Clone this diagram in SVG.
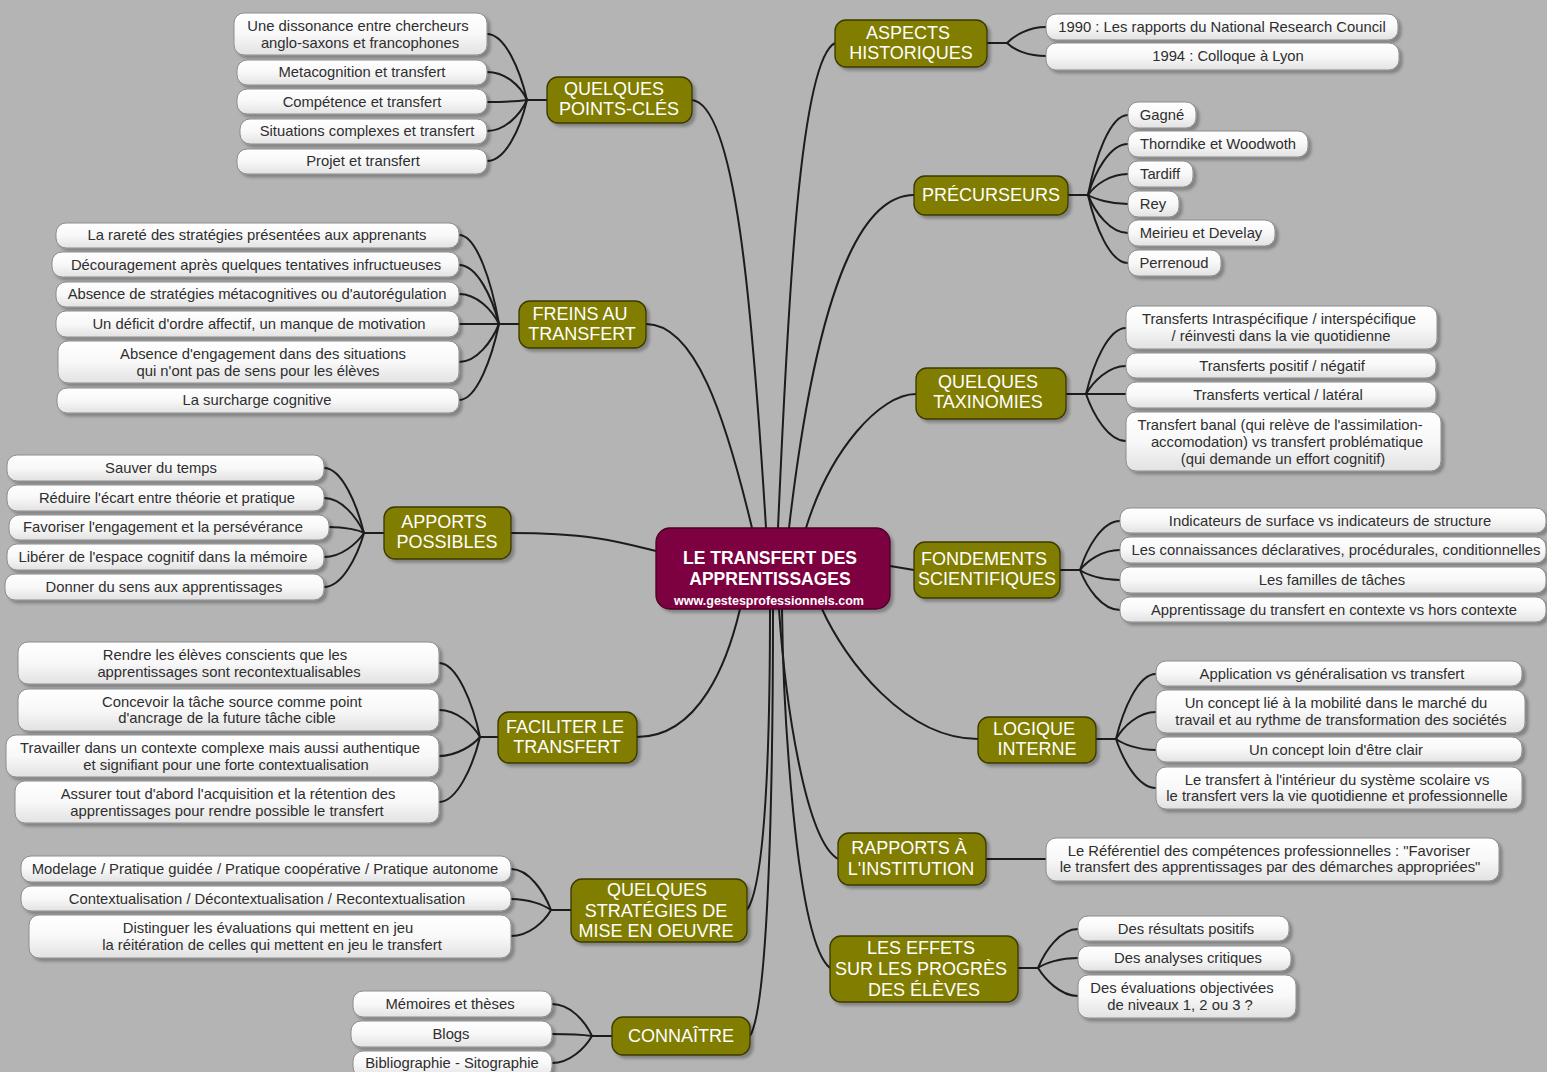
<svg xmlns="http://www.w3.org/2000/svg" width="1547" height="1072" viewBox="0 0 1547 1072">
<defs>
<linearGradient id="gLeaf" x1="0" y1="0" x2="0" y2="1">
<stop offset="0" stop-color="#ffffff"/><stop offset="0.5" stop-color="#f8f8f8"/><stop offset="1" stop-color="#e2e2e2"/>
</linearGradient>
<filter id="sh" x="-10%" y="-20%" width="120%" height="160%">
<feDropShadow dx="3" dy="3" stdDeviation="1.5" flood-color="#000" flood-opacity="0.28"/>
</filter>
<style>
text{font-family:"Liberation Sans",Arial,sans-serif;text-anchor:middle}
.leaf rect{fill:url(#gLeaf);stroke:#8c8c8c;stroke-width:1;filter:url(#sh)}
.leaf text{font-size:14.8px;fill:#2e2e2e}
.branch rect{fill:#807d00;stroke:#3a3800;stroke-width:1.3;filter:url(#sh)}
.branch text{font-size:18px;fill:#fff}
.center rect{fill:#7d003f;stroke:#4a0025;stroke-width:1.3;filter:url(#sh)}
.center text{fill:#fff;font-weight:bold}
#connectors path{fill:none;stroke:#1c1c1c;stroke-width:2}
</style>
</defs>
<rect width="1547" height="1072" fill="#b4b4b4"/>

<g id="connectors">
<path d="M692,100 C735,105 752,300 766,528"/>
<path d="M646,324 C695,324 725,415 752,528"/>
<path d="M511,533 C590,533 620,542 656,551"/>
<path d="M637,737 C700,737 728,660 740,609"/>
<path d="M747,910 C768,880 770,700 770,609"/>
<path d="M750,1036 C772,1000 773,700 773,609"/>
<path d="M835,43 C800,60 788,300 778,528"/>
<path d="M914,195 C850,195 812,330 789,528"/>
<path d="M916,394 C880,394 830,450 806,528"/>
<path d="M890,566 L914,570"/>
<path d="M978,739 C905,739 845,660 822,609"/>
<path d="M838,859 C805,840 785,700 779,609"/>
<path d="M830,968 C795,940 783,700 782,609"/>
<path d="M547,100 H527"/>
<path d="M527,100 C520,70 505,34 487,34"/>
<path d="M527,100 C520,85 505,72 487,72"/>
<path d="M527,100 C520,101 505,102 487,102"/>
<path d="M527,100 C520,115 505,131 487,131"/>
<path d="M527,100 C520,130 505,161 487,161"/>
<path d="M519,324 H499"/>
<path d="M499,324 C492,284 477,235 459,235"/>
<path d="M499,324 C492,297 477,265 459,265"/>
<path d="M499,324 C492,310 477,294 459,294"/>
<path d="M499,324 H459"/>
<path d="M499,324 C492,341 477,362 459,362"/>
<path d="M499,324 C492,357 477,400 459,400"/>
<path d="M384,533 H364"/>
<path d="M364,533 C357,505 342,468 324,468"/>
<path d="M364,533 C357,518 342,498 324,498"/>
<path d="M364,533 C359,530 345,527 329,527"/>
<path d="M364,533 C357,543 342,557 324,557"/>
<path d="M364,533 C357,557 342,587 324,587"/>
<path d="M498,737 H480"/>
<path d="M480,737 C473,704 457,663 439,663"/>
<path d="M480,737 C473,725 457,710 439,710"/>
<path d="M480,737 C473,745 457,756 439,756"/>
<path d="M480,737 C473,766 457,802 439,802"/>
<path d="M571,910 H551"/>
<path d="M551,910 C544,892 529,869 511,869"/>
<path d="M551,910 C544,905 529,899 511,899"/>
<path d="M551,910 C544,922 529,936 511,936"/>
<path d="M612,1036 H592"/>
<path d="M592,1036 C585,1021 570,1004 552,1004"/>
<path d="M592,1036 C585,1035 570,1034 552,1034"/>
<path d="M592,1036 C585,1048 570,1063 552,1063"/>
<path d="M987,43 H1007"/>
<path d="M1007,43 C1014,36 1028,27 1046,27"/>
<path d="M1007,43 C1014,50 1028,56 1046,56"/>
<path d="M1068,195 H1088"/>
<path d="M1088,195 C1095,158 1110,115 1128,115"/>
<path d="M1088,195 C1095,172 1110,144 1128,144"/>
<path d="M1088,195 C1095,185 1110,174 1128,174"/>
<path d="M1088,195 C1095,199 1110,204 1128,204"/>
<path d="M1088,195 C1095,212 1110,233 1128,233"/>
<path d="M1088,195 C1095,226 1110,263 1128,263"/>
<path d="M1066,394 H1086"/>
<path d="M1086,394 C1093,365 1108,328 1126,328"/>
<path d="M1086,394 C1093,382 1108,366 1126,366"/>
<path d="M1086,394 H1126"/>
<path d="M1086,394 C1093,414 1108,441 1126,441"/>
<path d="M1060,570 H1080"/>
<path d="M1080,570 C1087,548 1102,521 1120,521"/>
<path d="M1080,570 C1087,561 1102,550 1120,550"/>
<path d="M1080,570 C1087,575 1102,580 1120,580"/>
<path d="M1080,570 C1087,588 1102,610 1120,610"/>
<path d="M1096,739 H1116"/>
<path d="M1116,739 C1123,710 1138,674 1156,674"/>
<path d="M1116,739 C1123,727 1138,712 1156,712"/>
<path d="M1116,739 C1123,744 1138,750 1156,750"/>
<path d="M1116,739 C1123,760 1138,788 1156,788"/>
<path d="M986,859 H1046"/>
<path d="M1018,968 H1038"/>
<path d="M1038,968 C1045,951 1060,929 1078,929"/>
<path d="M1038,968 C1045,963 1060,958 1078,958"/>
<path d="M1038,968 C1045,979 1060,996 1078,996"/>
</g>

<g id="center" class="center">
<rect x="656" y="528" width="234" height="81" rx="14"/>
<text x="770" y="564" font-size="17.5">LE TRANSFERT DES</text>
<text x="770" y="585" font-size="17.5">APPRENTISSAGES</text>
<text x="769" y="605" font-size="12.5">www.gestesprofessionnels.com</text>
</g>

<g id="b-pointscles" class="branch"><rect x="547" y="77" width="145" height="46" rx="11"/><text x="614" y="95">QUELQUES</text><text x="619" y="115">POINTS-CLÉS</text></g>
<g id="b-freins" class="branch"><rect x="519" y="301" width="127" height="47" rx="11"/><text x="580" y="320">FREINS AU</text><text x="582" y="340">TRANSFERT</text></g>
<g id="b-apports" class="branch"><rect x="384" y="507" width="127" height="52" rx="11"/><text x="444" y="528">APPORTS</text><text x="447" y="548">POSSIBLES</text></g>
<g id="b-faciliter" class="branch"><rect x="498" y="712" width="139" height="51" rx="11"/><text x="565" y="733">FACILITER LE</text><text x="567" y="753">TRANSFERT</text></g>
<g id="b-strategies" class="branch"><rect x="571" y="879" width="176" height="63" rx="11"/><text x="657" y="896">QUELQUES</text><text x="656" y="917">STRATÉGIES DE</text><text x="656" y="937">MISE EN OEUVRE</text></g>
<g id="b-connaitre" class="branch"><rect x="612" y="1017" width="138" height="38" rx="11"/><text x="681" y="1042">CONNAÎTRE</text></g>
<g id="b-aspects" class="branch"><rect x="835" y="20" width="152" height="47" rx="11"/><text x="908" y="39">ASPECTS</text><text x="911" y="59">HISTORIQUES</text></g>
<g id="b-precurseurs" class="branch"><rect x="914" y="176" width="154" height="39" rx="11"/><text x="991" y="201">PRÉCURSEURS</text></g>
<g id="b-taxinomies" class="branch"><rect x="916" y="368" width="150" height="51" rx="11"/><text x="988" y="388">QUELQUES</text><text x="988" y="408">TAXINOMIES</text></g>
<g id="b-fondements" class="branch"><rect x="914" y="542" width="146" height="56" rx="11"/><text x="984" y="565">FONDEMENTS</text><text x="987" y="585">SCIENTIFIQUES</text></g>
<g id="b-logique" class="branch"><rect x="978" y="717" width="118" height="46" rx="11"/><text x="1034" y="735">LOGIQUE</text><text x="1037" y="755">INTERNE</text></g>
<g id="b-rapports" class="branch"><rect x="838" y="833" width="148" height="52" rx="11"/><text x="909" y="854">RAPPORTS À</text><text x="911" y="875">L'INSTITUTION</text></g>
<g id="b-effets" class="branch"><rect x="830" y="936" width="188" height="66" rx="11"/><text x="921" y="954">LES EFFETS</text><text x="921" y="975">SUR LES PROGRÈS</text><text x="924" y="996">DES ÉLÈVES</text></g>

<g id="l-pc1" class="leaf"><rect x="234" y="13" width="253" height="42" rx="10"/><text x="358" y="31">Une dissonance entre chercheurs</text><text x="360" y="48">anglo-saxons et francophones</text></g>
<g id="l-pc2" class="leaf"><rect x="237" y="60" width="250" height="25" rx="10"/><text x="362" y="77">Metacognition et transfert</text></g>
<g id="l-pc3" class="leaf"><rect x="237" y="89" width="250" height="25" rx="10"/><text x="362" y="107">Compétence et transfert</text></g>
<g id="l-pc4" class="leaf"><rect x="240" y="119" width="247" height="25" rx="10"/><text x="367" y="136">Situations complexes et transfert</text></g>
<g id="l-pc5" class="leaf"><rect x="237" y="149" width="250" height="25" rx="10"/><text x="363" y="166">Projet et transfert</text></g>

<g id="l-fr1" class="leaf"><rect x="56" y="223" width="403" height="25" rx="10"/><text x="257" y="240">La rareté des stratégies présentées aux apprenants</text></g>
<g id="l-fr2" class="leaf"><rect x="52" y="252" width="407" height="25" rx="10"/><text x="256" y="270">Découragement après quelques tentatives infructueuses</text></g>
<g id="l-fr3" class="leaf"><rect x="56" y="282" width="403" height="25" rx="10"/><text x="257" y="299">Absence de stratégies métacognitives ou d'autorégulation</text></g>
<g id="l-fr4" class="leaf"><rect x="56" y="311" width="403" height="26" rx="10"/><text x="259" y="329">Un déficit d'ordre affectif, un manque de motivation</text></g>
<g id="l-fr5" class="leaf"><rect x="58" y="341" width="401" height="42" rx="10"/><text x="263" y="359">Absence d'engagement dans des situations</text><text x="258" y="376">qui n'ont pas de sens pour les élèves</text></g>
<g id="l-fr6" class="leaf"><rect x="57" y="388" width="402" height="25" rx="10"/><text x="257" y="405">La surcharge cognitive</text></g>

<g id="l-ap1" class="leaf"><rect x="7" y="455" width="317" height="26" rx="10"/><text x="161" y="473">Sauver du temps</text></g>
<g id="l-ap2" class="leaf"><rect x="7" y="485" width="317" height="26" rx="10"/><text x="167" y="503">Réduire l'écart entre théorie et pratique</text></g>
<g id="l-ap3" class="leaf"><rect x="9" y="515" width="320" height="25" rx="10"/><text x="163" y="532">Favoriser l'engagement et la persévérance</text></g>
<g id="l-ap4" class="leaf"><rect x="7" y="544" width="317" height="26" rx="10"/><text x="163" y="562">Libérer de l'espace cognitif dans la mémoire</text></g>
<g id="l-ap5" class="leaf"><rect x="5" y="574" width="319" height="26" rx="10"/><text x="164" y="592">Donner du sens aux apprentissages</text></g>

<g id="l-fa1" class="leaf"><rect x="18" y="642" width="421" height="42" rx="10"/><text x="225" y="660">Rendre les élèves conscients  que les</text><text x="229" y="677">apprentissages sont recontextualisables</text></g>
<g id="l-fa2" class="leaf"><rect x="18" y="689" width="421" height="42" rx="10"/><text x="232" y="707">Concevoir la tâche source comme point</text><text x="227" y="723">d'ancrage de la future tâche cible</text></g>
<g id="l-fa3" class="leaf"><rect x="6" y="735" width="433" height="42" rx="10"/><text x="220" y="753">Travailler  dans un contexte complexe mais aussi authentique</text><text x="226" y="770">et signifiant  pour une forte contextualisation</text></g>
<g id="l-fa4" class="leaf"><rect x="15" y="781" width="424" height="42" rx="10"/><text x="228" y="799">Assurer tout d'abord l'acquisition et la rétention des</text><text x="227" y="816">apprentissages pour rendre possible le transfert</text></g>

<g id="l-st1" class="leaf"><rect x="21" y="856" width="490" height="26" rx="10"/><text x="265" y="874">Modelage / Pratique guidée / Pratique coopérative / Pratique autonome</text></g>
<g id="l-st2" class="leaf"><rect x="21" y="886" width="490" height="25" rx="10"/><text x="267" y="904">Contextualisation / Décontextualisation / Recontextualisation</text></g>
<g id="l-st3" class="leaf"><rect x="29" y="915" width="482" height="43" rx="10"/><text x="268" y="933">Distinguer  les évaluations  qui mettent en jeu</text><text x="272" y="950">la réitération de celles qui mettent en jeu le transfert</text></g>

<g id="l-co1" class="leaf"><rect x="353" y="991" width="199" height="26" rx="10"/><text x="450" y="1009">Mémoires et thèses</text></g>
<g id="l-co2" class="leaf"><rect x="351" y="1021" width="201" height="26" rx="10"/><text x="451" y="1039">Blogs</text></g>
<g id="l-co3" class="leaf"><rect x="353" y="1051" width="199" height="26" rx="10"/><text x="452" y="1068">Bibliographie - Sitographie</text></g>

<g id="l-as1" class="leaf"><rect x="1046" y="14" width="352" height="26" rx="10"/><text x="1222" y="32">1990 : Les rapports du National Research Council</text></g>
<g id="l-as2" class="leaf"><rect x="1046" y="43" width="353" height="27" rx="10"/><text x="1228" y="61">1994 : Colloque à Lyon</text></g>

<g id="l-pr1" class="leaf"><rect x="1128" y="102" width="68" height="26" rx="10"/><text x="1162" y="120">Gagné</text></g>
<g id="l-pr2" class="leaf"><rect x="1128" y="131" width="180" height="26" rx="10"/><text x="1218" y="149">Thorndike et Woodwoth</text></g>
<g id="l-pr3" class="leaf"><rect x="1128" y="161" width="65" height="26" rx="10"/><text x="1160" y="179">Tardiff</text></g>
<g id="l-pr4" class="leaf"><rect x="1128" y="191" width="51" height="26" rx="10"/><text x="1153" y="209">Rey</text></g>
<g id="l-pr5" class="leaf"><rect x="1128" y="220" width="147" height="26" rx="10"/><text x="1201" y="238">Meirieu et Develay</text></g>
<g id="l-pr6" class="leaf"><rect x="1128" y="250" width="93" height="26" rx="10"/><text x="1174" y="268">Perrenoud</text></g>

<g id="l-ta1" class="leaf"><rect x="1126" y="306" width="311" height="43" rx="10"/><text x="1279" y="324">Transferts  Intraspécifique / interspécifique</text><text x="1281" y="341">/ réinvesti dans la vie quotidienne</text></g>
<g id="l-ta2" class="leaf"><rect x="1126" y="353" width="310" height="25" rx="10"/><text x="1282" y="371">Transferts positif / négatif</text></g>
<g id="l-ta3" class="leaf"><rect x="1126" y="382" width="310" height="26" rx="10"/><text x="1278" y="400">Transferts vertical / latéral</text></g>
<g id="l-ta4" class="leaf"><rect x="1126" y="412" width="315" height="59" rx="10"/><text x="1280" y="430">Transfert banal (qui relève de l'assimilation-</text><text x="1287" y="447">accomodation)  vs  transfert problématique</text><text x="1283" y="464">(qui demande  un effort cognitif)</text></g>

<g id="l-fo1" class="leaf"><rect x="1120" y="508" width="426" height="25" rx="10"/><text x="1330" y="526">Indicateurs de surface vs indicateurs de structure</text></g>
<g id="l-fo2" class="leaf"><rect x="1120" y="537" width="426" height="26" rx="10"/><text x="1336" y="555">Les connaissances déclaratives, procédurales, conditionnelles</text></g>
<g id="l-fo3" class="leaf"><rect x="1120" y="567" width="426" height="26" rx="10"/><text x="1332" y="585">Les familles de tâches</text></g>
<g id="l-fo4" class="leaf"><rect x="1120" y="597" width="426" height="25" rx="10"/><text x="1334" y="615">Apprentissage du transfert en contexte vs hors contexte</text></g>

<g id="l-lo1" class="leaf"><rect x="1156" y="661" width="366" height="25" rx="10"/><text x="1332" y="679">Application vs généralisation vs transfert</text></g>
<g id="l-lo2" class="leaf"><rect x="1156" y="690" width="369" height="43" rx="10"/><text x="1336" y="708">Un concept  lié à la mobilité dans le marché du</text><text x="1341" y="725">travail et au rythme de transformation des sociétés</text></g>
<g id="l-lo3" class="leaf"><rect x="1156" y="737" width="366" height="25" rx="10"/><text x="1336" y="755">Un concept loin d'être clair</text></g>
<g id="l-lo4" class="leaf"><rect x="1156" y="767" width="366" height="42" rx="10"/><text x="1337" y="785">Le transfert à l'intérieur du système  scolaire vs</text><text x="1337" y="801">le transfert vers la vie quotidienne et professionnelle</text></g>

<g id="l-ra1" class="leaf"><rect x="1046" y="838" width="453" height="43" rx="10"/><text x="1269" y="856">Le Référentiel des compétences  professionnelles : "Favoriser</text><text x="1270" y="872">le transfert des apprentissages par des démarches appropriées"</text></g>

<g id="l-ef1" class="leaf"><rect x="1078" y="916" width="211" height="25" rx="10"/><text x="1186" y="934">Des résultats positifs</text></g>
<g id="l-ef2" class="leaf"><rect x="1078" y="946" width="213" height="25" rx="10"/><text x="1188" y="963">Des analyses critiques</text></g>
<g id="l-ef3" class="leaf"><rect x="1078" y="975" width="218" height="43" rx="10"/><text x="1182" y="993">Des évaluations objectivées</text><text x="1180" y="1010">de niveaux 1, 2 ou 3 ?</text></g>
</svg>
